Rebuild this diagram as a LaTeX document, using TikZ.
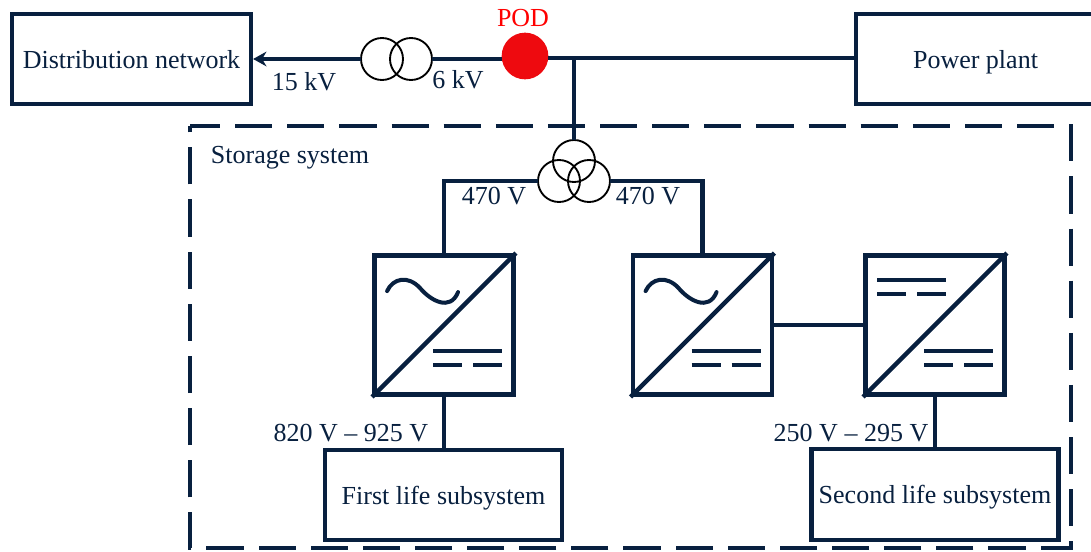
\documentclass[tikz,border=0pt]{standalone}
\usepackage{fontspec}
\setmainfont{Liberation Serif}
\usetikzlibrary{arrows.meta}
\definecolor{navy}{HTML}{08203F}
\definecolor{podred}{HTML}{EE0A0F}
\tikzset{
  x=0.75pt,y=-0.75pt,
  wire/.style={draw=navy,line width=3.3pt},
  boxnode/.style={draw=navy,line width=3.4pt,text=navy,font=\fontsize{19.5}{23}\selectfont,inner sep=0pt,text height=14pt,text depth=0pt},
  conv/.style={draw=navy,line width=3.4pt,minimum size=104.5pt,inner sep=0pt},
  lbl/.style={text=navy,font=\fontsize{19.5}{23}\selectfont,inner sep=0pt,anchor=base},
  coil/.style={circle,draw=black,line width=1.4pt,minimum size=31.5pt,inner sep=0pt,outer sep=0pt},
  acsym/.pic={\draw[navy,line width=3pt,line cap=round] (15,38) .. controls (21,25) and (36,22) .. (48,35) .. controls (58,47) and (78,59) .. (86,39);},
  dcsym/.pic={\draw[navy,line width=3.1pt] (0,0) -- (69,0) (0,14) -- (29,14) (40,14) -- (69,14);}
}
\begin{document}
\begin{tikzpicture}
\clip (0,0) rectangle (1091,551);
\useasboundingbox (0,0) rectangle (1091,551);
\fill[white] (0,0) rectangle (1091,551);
% storage frame
\draw[navy,line width=3.4pt,dash pattern=on 27.85pt off 11.25pt,dash phase=5.25pt] (190,126) -- (1071,126) -- (1071,548) -- (190,548) -- cycle;
% boxes
\node[boxnode,minimum width=179pt,minimum height=67.5pt] (dist) at (131.5,59) {Distribution network};
\node[boxnode,minimum width=179pt,minimum height=67.5pt] (plant) at (975.5,59) {Power plant};
\node[boxnode,minimum width=178pt,minimum height=67.5pt] (first) at (443.5,495) {First life subsystem};
\node[boxnode,minimum width=185pt,minimum height=68pt] (second) at (935,494.5) {Second life subsystem};
% converters
\node[conv] (c1) at (444,325) {};
\node[conv] (c2) at (702.5,325) {};
\node[conv] (c3) at (935,325) {};
\draw[navy,line width=3.4pt] (c1.south west) -- (c1.north east);
\draw[navy,line width=3.4pt] (c2.south west) -- (c2.north east);
\draw[navy,line width=3.4pt] (c3.south west) -- (c3.north east);
\pic at (c1.north west) {acsym};
\pic at (c2.north west) {acsym};
\pic at (c1.north west) [shift={(61,98)}] {dcsym};
\pic at (c2.north west) [shift={(61,98)}] {dcsym};
\pic at (c3.north west) [shift={(61,98)}] {dcsym};
\pic at (c3.north west) [shift={(14,27)}] {dcsym};
% transformers
\node[coil] (ta) at (382,59) {};
\node[coil] (tb) at (411,59) {};
\node[coil] (tt) at (574,161) {};
\node[coil] (tl) at (559,181) {};
\node[coil] (tr) at (589,181) {};
\node[circle,fill=podred,minimum size=35pt,inner sep=0pt,outer sep=0pt] (pod) at (525,56) {};
\coordinate (j) at (574,58);
% connectors
\draw[wire,-{Stealth[length=10pt,width=11pt]}] (ta.west) -- (dist.east);
\draw[wire] (tb.east) -- (pod.west |- tb.east);
\draw[wire] (pod.east |- j) -- (plant.west |- j);
\draw[wire] (j) -- (tt.north);
\draw[wire] (tl.west) -| (c1.north);
\draw[wire] (tr.east) -| (c2.north);
\draw[wire] (c2.east) -- (c3.west);
\draw[wire] (c1.south) -- (first.north -| c1.south);
\draw[wire] (c3.south) -- (second.north -| c3.south);
% labels
\node[lbl] (l15) at (304,90) {15 kV};
\node[lbl] (l6) at (458,88) {6 kV};
\node[lbl,text=red] (lpod) at (523,26) {POD};
\node[lbl] (lstore) at (290,163) {Storage system};
\node[lbl] (l470a) at (494,204) {470 V};
\node[lbl] (l470b) at (648,204) {470 V};
\node[lbl] (l820) at (351,441) {820 V – 925 V};
\node[lbl] (l250) at (851,441) {250 V – 295 V};
\end{tikzpicture}
\end{document}
